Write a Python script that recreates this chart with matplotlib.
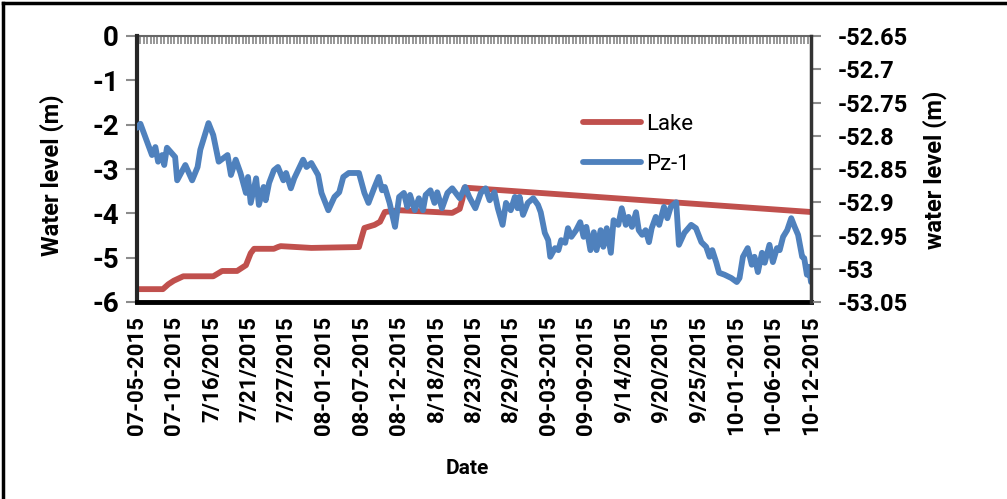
import numpy as np
import matplotlib
matplotlib.use("Agg")
import matplotlib.pyplot as plt
from matplotlib.lines import Line2D

plt.rcParams["font.family"] = ["Roboto", "DejaVu Sans"]
plt.rcParams["font.weight"] = "bold"

# date labels every 5.5 days from 07-05-2015 (day 0) to 10-12-2015 (day 99)
date_labels = ["07-05-2015", "07-10-2015", "7/16/2015", "7/21/2015", "7/27/2015",
               "08-01-2015", "08-07-2015", "08-12-2015", "8/18/2015", "8/23/2015",
               "8/29/2015", "09-03-2015", "09-09-2015", "9/14/2015", "9/20/2015",
               "9/25/2015", "10-01-2015", "10-06-2015", "10-12-2015"]

# lake stage (left axis, m)
lake_day = [0.0, 3.8, 4.6, 5.4, 6.8, 11.2, 12.5, 14.7, 16.0, 16.7, 17.2, 20.1, 20.7, 21.1,
            25.6, 32.6, 33.0, 33.4, 34.9, 35.7, 36.4, 38.5, 46.3, 47.4, 47.8, 48.1, 99.0]
lake_level = [-5.71, -5.71, -5.60, -5.52, -5.42, -5.42, -5.30, -5.30, -5.17, -4.90, -4.80,
              -4.80, -4.76, -4.74, -4.78, -4.76, -4.54, -4.33, -4.26, -4.19, -3.97, -3.93,
              -3.99, -3.90, -3.68, -3.42, -3.97]

# piezometer Pz-1 (right axis, m)
pz_day = [0.0, 0.5, 2.2, 2.7, 3.1, 3.7, 4.0, 4.4, 5.6, 5.9, 7.1, 8.1, 8.9, 9.3, 10.5, 11.2,
          12.0, 13.3, 13.8, 14.5, 15.2, 16.0, 16.3, 16.7, 17.5, 17.9, 18.6, 18.9, 19.4, 20.1,
          20.7, 21.5, 21.9, 22.6, 23.1, 24.4, 24.9, 25.6, 26.6, 27.1, 28.1, 29.0, 29.7, 30.3,
          31.1, 32.6, 33.4, 34.0, 34.9, 35.5, 36.0, 36.4, 37.1, 37.9, 38.5, 39.2, 39.7, 40.1,
          40.8, 41.4, 42.0, 42.4, 43.1, 43.7, 44.1, 44.8, 45.6, 46.3, 47.4, 48.2, 48.8, 49.7,
          50.5, 51.2, 51.8, 52.5, 53.0, 53.7, 54.2, 54.9, 55.5, 55.9, 56.2, 56.7, 57.4, 58.2,
          58.9, 59.3, 59.9, 60.4, 60.7, 61.4, 61.9, 62.3, 62.9, 63.3, 63.8, 64.5, 65.1, 65.6,
          66.0, 66.6, 67.1, 67.5, 68.1, 68.5, 69.0, 69.6, 70.0, 70.7, 71.2, 71.8, 72.2, 72.7,
          73.3, 73.7, 74.2, 74.7, 75.2, 75.6, 76.2, 76.7, 77.4, 77.9, 78.4, 79.2, 79.6, 80.4,
          81.4, 82.1, 82.9, 83.6, 84.1, 84.5, 85.1, 85.5, 86.3, 87.3, 88.1, 88.5, 89.0, 89.7,
          90.3, 90.7, 91.2, 91.8, 92.2, 92.9, 93.4, 94.0, 94.4, 94.9, 95.5, 96.1, 96.6, 97.1,
          97.7, 98.0, 98.4, 98.7, 99.0]
pz_level = [-52.788, -52.782, -52.829, -52.817, -52.839, -52.829, -52.844, -52.818, -52.832,
            -52.867, -52.844, -52.867, -52.847, -52.821, -52.781, -52.799, -52.839, -52.829,
            -52.859, -52.836, -52.856, -52.886, -52.862, -52.901, -52.864, -52.904, -52.877,
            -52.897, -52.871, -52.852, -52.847, -52.867, -52.856, -52.879, -52.864, -52.836,
            -52.847, -52.841, -52.859, -52.886, -52.912, -52.892, -52.885, -52.862, -52.856,
            -52.856, -52.886, -52.901, -52.877, -52.862, -52.882, -52.877, -52.901, -52.937,
            -52.892, -52.886, -52.907, -52.889, -52.912, -52.894, -52.912, -52.889, -52.882,
            -52.901, -52.885, -52.909, -52.886, -52.879, -52.894, -52.877, -52.892, -52.909,
            -52.886, -52.879, -52.897, -52.885, -52.909, -52.934, -52.901, -52.912, -52.892,
            -52.909, -52.892, -52.919, -52.901, -52.894, -52.904, -52.915, -52.946, -52.957,
            -52.982, -52.969, -52.972, -52.957, -52.961, -52.939, -52.952, -52.942, -52.930,
            -52.952, -52.937, -52.972, -52.945, -52.972, -52.942, -52.967, -52.939, -52.976,
            -52.927, -52.934, -52.909, -52.934, -52.922, -52.937, -52.915, -52.942, -52.949,
            -52.942, -52.960, -52.939, -52.922, -52.934, -52.907, -52.924, -52.907, -52.900,
            -52.964, -52.946, -52.934, -52.939, -52.960, -52.967, -52.982, -52.972, -52.991,
            -53.006, -53.009, -53.014, -53.020, -53.014, -52.982, -52.969, -52.994, -52.982,
            -53.005, -52.976, -52.991, -52.964, -52.990, -52.969, -52.972, -52.952, -52.942,
            -52.924, -52.937, -52.949, -52.982, -52.984, -53.009, -52.997, -53.020]

left_ticks = [0, -1, -2, -3, -4, -5, -6]
right_ticks = [-52.65, -52.7, -52.75, -52.8, -52.85, -52.9, -52.95, -53.0, -53.05]

W, H = 1007, 499
fig = plt.figure(figsize=(W / 100, H / 100), dpi=100)
ax = fig.add_axes([137 / W, 1 - 302 / H, 674 / W, 266 / H])
ax2 = ax.twinx()

ax.plot(lake_day, lake_level, color="#C0504D", lw=4.2, solid_capstyle="round",
        solid_joinstyle="round", label="Lake")
ax2.plot(pz_day, pz_level, color="#4F81BD", lw=4.2, solid_capstyle="round",
         solid_joinstyle="round", label="Pz-1")

ax.set_xlim(0, 99)
ax.set_ylim(-6, 0)
ax2.set_ylim(-53.05, -52.65)

label_days = np.arange(len(date_labels)) * 5.5
ax.set_xticks(label_days)
ax.set_xticklabels(date_labels, rotation=90, fontsize=16, fontweight="bold")
ax.tick_params(axis="x", length=0, pad=10)

ax.set_yticks(left_ticks)
ax.set_yticklabels([str(t) for t in left_ticks], fontsize=20, fontweight="bold")
ax.tick_params(axis="y", direction="out", length=8, width=1.5, color="#8c8c8c", pad=5)
ax2.set_yticks(right_ticks)
ax2.set_yticklabels(["%g" % t for t in right_ticks], fontsize=17, fontweight="bold")
ax2.tick_params(axis="y", direction="out", length=7, width=1.5, color="#8c8c8c", pad=12)

# dense category ticks along the top edge
top = ax.secondary_xaxis("top")
top.set_xticks(np.arange(0, 99.01, 0.5))
top.tick_params(direction="in", length=6, width=1.1, color="#7a7a7a", labeltop=False)
top.spines["top"].set_color("#666666")
top.spines["top"].set_linewidth(1.5)

ax.spines["top"].set_visible(False)
ax.spines["left"].set_color("#262626")
ax.spines["left"].set_linewidth(3)
ax.spines["bottom"].set_color("black")
ax.spines["bottom"].set_linewidth(3.5)
ax.spines["right"].set_visible(False)
for s in ["left", "top", "bottom"]:
    ax2.spines[s].set_visible(False)
ax2.spines["right"].set_color("#333333")
ax2.spines["right"].set_linewidth(2.5)

fig.text(52 / W, 1 - 175 / H, "Water level (m)", rotation=90, ha="center", va="center",
         fontsize=17, fontweight="bold")
fig.text(935 / W, 1 - 170 / H, "water level (m)", rotation=90, ha="center", va="center",
         fontsize=17, fontweight="bold")
fig.text(467 / W, 1 - 468 / H, "Date", ha="center", va="center", fontsize=15, fontweight="bold")

h1, l1 = ax.get_legend_handles_labels()
h2, l2 = ax2.get_legend_handles_labels()
ax2.legend(h1 + h2, l1 + l2, loc="upper left", bbox_to_anchor=(583 / W, 1 - 114 / H),
           bbox_transform=fig.transFigure, frameon=False, prop={"size": 16, "weight": "normal"},
           handlelength=2.6, handletextpad=0.25, labelspacing=0.85, borderpad=0, borderaxespad=0)

# outer frame (left and top edges)
fig.add_artist(Line2D([3 / W, 3 / W], [0, 1 - 3 / H], transform=fig.transFigure, color="black", lw=2.5))
fig.add_artist(Line2D([3 / W, 1], [1 - 3 / H, 1 - 3 / H], transform=fig.transFigure, color="black", lw=2.5))

fig.savefig("out.png", dpi=100)
